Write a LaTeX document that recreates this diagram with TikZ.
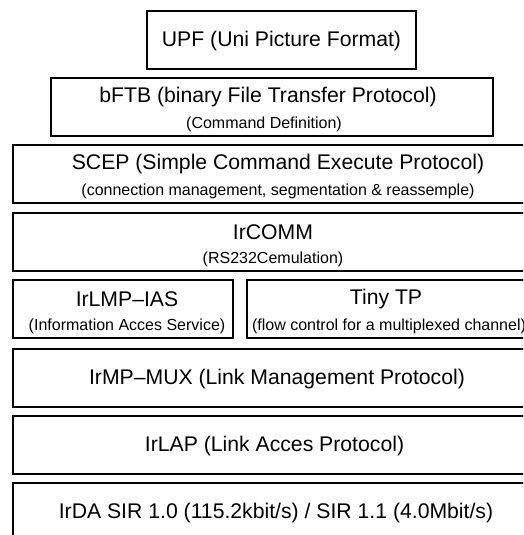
\documentclass[tikz,border=0pt]{standalone}
\usepackage{fontspec}
\setmainfont{Liberation Sans}
\begin{document}
\begin{tikzpicture}[x=1pt,y=-1pt,
  layer/.style={draw, line width=1.3pt, rectangle, inner sep=0pt, minimum height=58pt},
  big/.style={inner sep=0pt, font=\fontsize{21.2}{25}\selectfont},
  small/.style={inner sep=0pt, font=\fontsize{16}{19}\selectfont}]
\clip (0,0) rectangle (523,535);
\fill[white] (0,0) rectangle (523,535);
% boxes
\node[layer, minimum width=269pt] (upf)   at (281.5,40) {};
\node[layer, minimum width=442pt] (bftb)  at (272,107) {};
\node[layer, minimum width=527pt] (scep)  at (276.5,174) {};
\node[layer, minimum width=527pt] (ircomm) at (276.5,242) {};
\node[layer, minimum width=220pt] (ias)   at (123,309) {};
\node[layer, minimum width=293pt] (tinytp) at (393.5,309) {};
\node[layer, minimum width=527pt] (mux)   at (276.5,378) {};
\node[layer, minimum width=527pt] (lap)   at (276.5,445) {};
\node[layer, minimum width=527pt] (sir)   at (276.5,512) {};
% texts
\node[big]   (tupf)   at (281.5,41) {UPF (Uni Picture Format)};
\node[big]   (tbftb)  at (268,97) {bFTB (binary File Transfer Protocol)};
\node[small] (tbftb2) at (264,124.5) {(Command Definition)};
\node[big]   (tscep)  at (278,164.5) {SCEP (Simple Command Execute Protocol)};
\node[small] (tscep2) at (278,191.5) {(connection management, segmentation \& reassemple)};
\node[big]   (tcomm)  at (273,232.5) {IrCOMM};
\node[small] (tcomm2) at (273,259.5) {(RS232Cemulation)};
\node[big]   (tias)   at (127,299.5) {IrLMP--IAS};
\node[small] (tias2)  at (127,326.5) {(Information Acces Service)};
\node[big]   (ttiny)  at (386,299.5) {Tiny TP};
\node[small] (ttiny2) at (389,326.5) {(flow control for a multiplexed channel)};
\node[big]   (tmux)   at (277,379) {IrMP--MUX (Link Management Protocol)};
\node[big]   (tlap)   at (274.5,446) {IrLAP (Link Acces Protocol)};
\node[big]   (tsir)   at (276,513) {IrDA SIR 1.0 (115.2kbit/s) / SIR 1.1 (4.0Mbit/s)};
\end{tikzpicture}
\end{document}
